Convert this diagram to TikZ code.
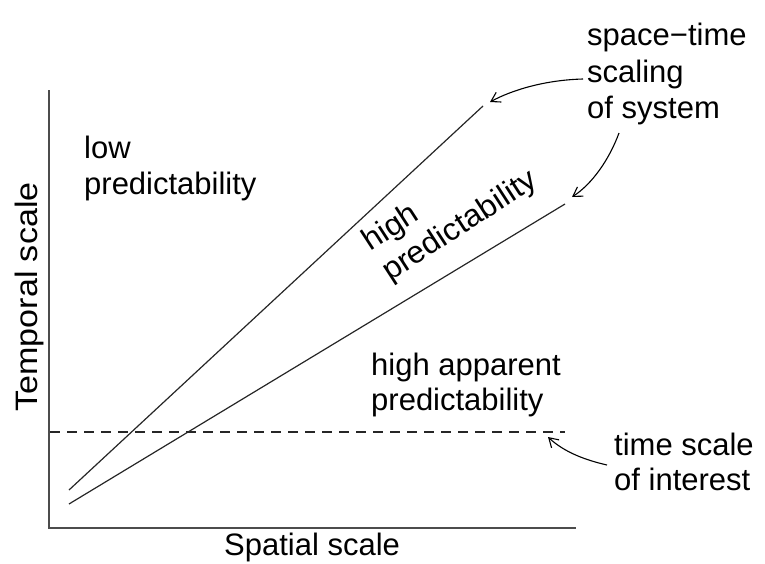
\documentclass[tikz,border=0pt]{standalone}
\usepackage{fontspec}
\setmainfont{Liberation Sans}
\usetikzlibrary{arrows.meta}
\begin{document}
\begin{tikzpicture}[x=1pt,y=-1pt,
  lbl/.style={inner sep=0pt, anchor=base west, font=\fontsize{31}{36}\selectfont},
  ln/.style={line width=1.2pt, black!85},
  axisline/.style={line width=1.8pt, black!70},
  callout/.style={line width=1.1pt, -{Straight Barb[length=9pt,width=11pt,line width=1.1pt]}}]
\useasboundingbox (0,0) rectangle (765,563);
% axes
\coordinate (otop) at (49,90);
\coordinate (orig) at (49,528);
\coordinate (xend) at (576,528);
\draw[axisline] (otop) -- (orig) -- (xend);
% scaling lines
\coordinate (l1s) at (69,490);
\coordinate (l1e) at (483,106);
\coordinate (l2s) at (69,504);
\coordinate (l2e) at (565,204);
\draw[ln] (l1s) -- (l1e);
\draw[ln] (l2s) -- (l2e);
% dashed time-scale line
\coordinate (ds) at (50,432);
\coordinate (de) at (565,432);
\draw[ln, line width=1.1pt, dash pattern=on 10pt off 7pt] (ds) -- (de);
% axis labels
\node[inner sep=0pt, font=\fontsize{31}{36}\selectfont, rotate=90, xscale=1.1, anchor=base] (ylab) at (37,297) {Temporal scale};
\node[lbl] (xlab) at (224,555) {Spatial scale};
% region labels
\node[lbl] (low1) at (84,158) {low};
\node[lbl] (low2) at (84,194) {predictability};
\node[lbl, rotate=33, xscale=1.03] (hp1) at (370,252) {high};
\node[lbl, rotate=33, xscale=1.03] (hp2) at (390,282) {predictability};
\node[lbl] (ha1) at (371,375) {high apparent};
\node[lbl] (ha2) at (371,410) {predictability};
% callout labels
\node[lbl] (st1) at (587,45) {space−time};
\node[lbl] (st2) at (587,82) {scaling};
\node[lbl] (st3) at (587,118) {of system};
\node[lbl] (ti1) at (614,455) {time scale};
\node[lbl] (ti2) at (614,490) {of interest};
% callout arrows
\coordinate (a1s) at (583,79);
\coordinate (a1e) at (490,102);
\coordinate (a2s) at (619,133);
\coordinate (a2e) at (572,197);
\coordinate (a3s) at (607,465);
\coordinate (a3e) at (548,437);
\draw[callout] (a1s) .. controls (545,80) and (512,90) .. (a1e);
\draw[callout] (a2s) .. controls (609,160) and (592,184) .. (a2e);
\draw[callout] (a3s) .. controls (585,460) and (564,452) .. (a3e);
\end{tikzpicture}
\end{document}
